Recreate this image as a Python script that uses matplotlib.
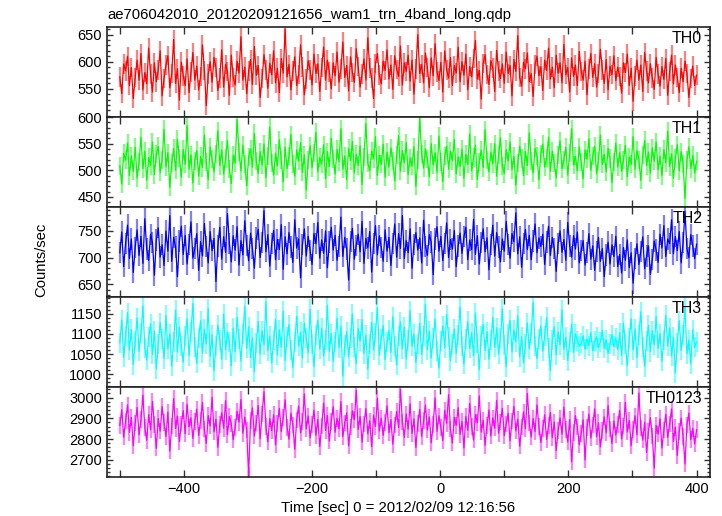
import numpy as np
import matplotlib.pyplot as plt
from matplotlib.ticker import MultipleLocator

plt.rcParams['font.family'] = ['Liberation Sans', 'DejaVu Sans']

# time grid: -500 .. 400 s, 3 s steps (301 bins)
time = np.arange(-500, 401, 3)

th0 = [572, 541, 596, 583, 610, 556, 589, 532, 571, 603, 566, 615, 548, 580, 559, 625, 577, 544, 598, 563,
       585, 620, 537, 569, 594, 611, 552, 578, 641, 560, 587, 529, 599, 574, 556, 605, 543, 581, 617, 566,
       592, 548, 573, 631, 584, 519, 577, 600, 562, 608, 589, 547, 570, 622, 553, 595, 582, 538, 612, 571,
       557, 601, 579, 646, 566, 590, 541, 583, 604, 558, 628, 575, 593, 534, 569, 613, 585, 551, 597, 576,
       620, 561, 588, 543, 606, 579, 660, 572, 595, 548, 583, 609, 556, 576, 631, 590, 539, 568, 602, 585,
       557, 614, 578, 596, 545, 589, 627, 566, 603, 581, 550, 598, 574, 618, 562, 587, 636, 571, 593, 546,
       609, 580, 562, 624, 591, 553, 577, 605, 566, 644, 588, 570, 532, 597, 615, 575, 559, 601, 584, 622,
       568, 594, 549, 611, 586, 573, 629, 557, 598, 582, 612, 564, 603, 540, 587, 650, 578, 595, 561, 616,
       589, 552, 607, 574, 633, 581, 565, 599, 544, 620, 585, 570, 608, 556, 593, 579, 627, 563, 600, 575,
       614, 548, 591, 572, 606, 639, 568, 584, 531, 597, 613, 576, 558, 602, 588, 545, 621, 583, 569, 596,
       560, 618, 578, 593, 537, 604, 582, 648, 571, 555, 599, 587, 616, 563, 578, 536, 595, 610, 574, 591,
       547, 603, 584, 625, 568, 590, 552, 612, 579, 598, 561, 632, 576, 589, 544, 607, 573, 594, 556, 619,
       582, 566, 601, 539, 587, 615, 571, 596, 553, 578, 623, 585, 560, 604, 548, 592, 576, 611, 565, 590,
       573, 542, 598, 580, 614, 556, 588, 527, 574, 603, 566, 594, 545, 617, 583, 561, 596, 570, 549, 608,
       577, 555, 591, 567, 606, 538, 582, 612, 559, 594, 571, 543, 588, 563, 601, 578, 534, 569, 592, 556,
       575]

th1 = [508, 474, 532, 519, 551, 490, 527, 498, 543, 485, 515, 562, 503, 536, 481, 524, 509, 553, 492, 530,
       545, 496, 520, 577, 506, 533, 468, 514, 541, 500, 558, 523, 487, 539, 511, 584, 502, 529, 476, 518,
       537, 489, 526, 505, 566, 515, 482, 544, 521, 497, 531, 574, 509, 538, 493, 522, 556, 503, 475, 528,
       514, 595, 534, 499, 547, 512, 471, 525, 540, 506, 569, 518, 494, 535, 510, 549, 486, 527, 581, 513,
       491, 532, 508, 557, 520, 478, 543, 503, 526, 567, 511, 489, 538, 517, 552, 496, 529, 463, 519, 546,
       505, 533, 571, 497, 524, 512, 548, 484, 535, 507, 560, 521, 493, 539, 516, 578, 502, 527, 482, 541,
       518, 554, 495, 530, 509, 546, 473, 525, 588, 513, 500, 536, 522, 563, 490, 528, 511, 549, 487, 534,
       506, 542, 517, 480, 529, 565, 498, 537, 514, 552, 492, 523, 508, 544, 470, 519, 597, 531, 504, 540,
       521, 488, 550, 510, 533, 496, 564, 515, 479, 527, 545, 502, 536, 518, 558, 493, 525, 507, 540, 485,
       530, 511, 568, 499, 524, 547, 483, 516, 538, 505, 576, 520, 497, 534, 512, 550, 489, 528, 561, 508,
       494, 539, 517, 553, 501, 526, 472, 513, 545, 522, 490, 535, 509, 570, 518, 495, 541, 527, 482, 531,
       549, 506, 523, 562, 498, 536, 514, 486, 529, 555, 503, 520, 543, 491, 532, 578, 510, 526, 499, 544,
       515, 484, 538, 521, 559, 500, 527, 545, 493, 518, 566, 511, 530, 497, 541, 522, 477, 516, 551, 506,
       533, 498, 519, 547, 488, 525, 511, 563, 502, 537, 520, 481, 528, 556, 509, 534, 495, 542, 517, 553,
       501, 526, 490, 539, 514, 573, 507, 531, 485, 522, 548, 499, 535, 512, 447, 520, 544, 503, 528, 495,
       517]

th2 = [709, 748, 683, 727, 761, 698, 735, 672, 719, 752, 704, 740, 689, 773, 716, 695, 744, 728, 667, 733,
       756, 701, 724, 685, 750, 712, 779, 693, 738, 720, 664, 731, 759, 706, 742, 688, 725, 767, 699, 717,
       745, 676, 730, 703, 764, 721, 690, 749, 713, 736, 655, 722, 757, 697, 739, 710, 783, 727, 692, 741,
       714, 758, 686, 732, 705, 769, 723, 694, 746, 717, 680, 737, 753, 700, 728, 788, 711, 743, 684, 726,
       751, 696, 734, 715, 762, 678, 739, 707, 747, 720, 691, 771, 718, 735, 662, 724, 754, 703, 740, 713,
       687, 745, 726, 766, 699, 733, 708, 750, 681, 729, 757, 714, 742, 695, 721, 776, 702, 738, 716, 658,
       730, 755, 697, 723, 744, 711, 768, 689, 736, 718, 749, 673, 727, 760, 705, 741, 719, 693, 752, 712,
       738, 685, 726, 763, 701, 745, 717, 779, 698, 732, 709, 754, 680, 725, 747, 714, 737, 690, 770, 721,
       704, 743, 729, 668, 735, 758, 712, 740, 694, 727, 765, 700, 734, 716, 751, 683, 722, 746, 708, 739,
       757, 696, 733, 715, 772, 706, 741, 688, 728, 754, 711, 737, 677, 724, 761, 703, 747, 720, 692, 735,
       712, 768, 725, 699, 745, 730, 784, 707, 739, 682, 726, 753, 715, 742, 696, 731, 763, 709, 737, 721,
       744, 687, 729, 759, 704, 738, 717, 674, 727, 750, 710, 734, 695, 766, 722, 701, 741, 716, 748, 690,
       713, 732, 686, 709, 745, 697, 722, 676, 711, 738, 693, 717, 664, 705, 729, 688, 724, 702, 740, 683,
       706, 671, 719, 695, 733, 681, 709, 652, 698, 726, 687, 712, 739, 679, 703, 722, 668, 696, 731, 714,
       691, 744, 718, 760, 702, 735, 726, 771, 707, 740, 713, 749, 690, 728, 786, 717, 700, 743, 722, 698,
       725]

th3 = [1078, 1135, 1042, 1096, 1153, 1060, 1111, 1024, 1083, 1140, 1057, 1102, 1170, 1066, 1035, 1092, 1125, 1049, 1107, 1013,
       1074, 1128, 1088, 1039, 1146, 1063, 1100, 1020, 1081, 1159, 1055, 1117, 1071, 1030, 1094, 1138, 1046, 1105, 1176, 1068,
       1027, 1090, 1133, 1052, 1112, 1075, 1163, 1044, 1098, 1008, 1069, 1122, 1085, 1037, 1149, 1061, 1103, 1079, 1021, 1115,
       1056, 1142, 1087, 1033, 1099, 1168, 1064, 1118, 1041, 1091, 1006, 1077, 1131, 1050, 1108, 1073, 1180, 1058, 1095, 1028,
       1084, 1137, 1048, 1110, 1067, 1156, 1034, 1093, 1123, 1059, 1016, 1081, 1144, 1070, 1104, 1040, 1127, 1089, 1053, 1161,
       1076, 1019, 1097, 1134, 1062, 1114, 1045, 1086, 1171, 1057, 1101, 1031, 1080, 1139, 1066, 1119, 995, 1072, 1106, 1043,
       1091, 1150, 1068, 1026, 1113, 1082, 1136, 1051, 1097, 1012, 1074, 1129, 1060, 1102, 1165, 1047, 1088, 1121, 1036, 1079,
       1109, 1054, 1143, 1071, 1023, 1094, 1130, 1063, 1117, 1038, 1085, 1158, 1069, 1100, 1029, 1076, 1126, 1049, 1096, 1174,
       1061, 1107, 1040, 1089, 1137, 1058, 1015, 1082, 1120, 1065, 1148, 1093, 1033, 1075, 1112, 1052, 1098, 1167, 1070, 1025,
       1087, 1131, 1064, 1103, 1046, 1152, 1078, 1011, 1095, 1124, 1059, 1106, 1037, 1084, 1141, 1067, 1115, 1050, 1090, 1162,
       1072, 1018, 1099, 1134, 1055, 1110, 1081, 1145, 1043, 1093, 1028, 1076, 1127, 1063, 1102, 1179, 1071, 1039, 1088, 1120,
       1057, 1096, 1141, 1066, 1009, 1085, 1118, 1048, 1105, 1073, 1160, 1061, 1092, 1034, 1079, 1124, 1054, 1100, 1083, 1069,
       1077, 1095, 1062, 1088, 1071, 1104, 1058, 1082, 1093, 1066, 1080, 1109, 1064, 1086, 1052, 1075, 1098, 1069, 1090, 1061,
       1103, 1047, 1127, 1074, 1021, 1089, 1138, 1060, 1112, 1041, 1097, 1155, 1068, 1019, 1083, 1121, 1056, 1108, 1073, 1143,
       1064, 1101, 1032, 1086, 1146, 1070, 1115, 1045, 1092, 1003, 1078, 1133, 1059, 1097, 1166, 1051, 1085, 1026, 1110, 1067,
       1080]

th0123 = [2866, 2941, 2809, 2887, 2965, 2832, 2905, 2768, 2878, 2952, 2820, 2893, 3012, 2856, 2794, 2918, 2845, 2981, 2871, 2756,
          2899, 2838, 2957, 2880, 2812, 2930, 2742, 2862, 2995, 2851, 2910, 2788, 2873, 2937, 2826, 2968, 2859, 2902, 2803, 2884,
          2944, 2817, 2890, 2976, 2848, 2779, 2913, 2863, 3001, 2835, 2896, 2760, 2869, 2927, 2852, 2985, 2821, 2908, 2874, 2797,
          2855, 2934, 2881, 2991, 2828, 2906, 2843, 2625, 2889, 2950, 2815, 2877, 2962, 2801, 2921, 3028, 2860, 2787, 2898, 2840,
          2917, 2772, 2876, 2948, 2836, 2903, 2989, 2857, 2799, 2925, 2868, 2751, 2892, 2959, 2830, 2884, 3018, 2849, 2911, 2806,
          2870, 2939, 2818, 2895, 2764, 2862, 2973, 2841, 2914, 2790, 2886, 2955, 2833, 2900, 2849, 2980, 2812, 2878, 2926, 2767,
          2858, 2936, 2893, 3035, 2846, 2909, 2785, 2872, 2947, 2825, 2888, 2763, 2915, 2861, 2997, 2839, 2901, 2818, 2879, 2960,
          2831, 2894, 2775, 2867, 2933, 2855, 3040, 2882, 2808, 2921, 2847, 2970, 2827, 2897, 2759, 2874, 2943, 2813, 2889, 2964,
          2844, 2906, 2782, 2869, 2998, 2837, 2912, 2856, 2793, 2938, 2876, 3014, 2849, 2781, 2904, 2866, 2951, 2822, 2885, 2757,
          2909, 2843, 2972, 2861, 2796, 2918, 2879, 3008, 2834, 2891, 2770, 2865, 2940, 2815, 2902, 2853, 2986, 2828, 2883, 2948,
          2816, 2873, 2924, 2791, 2887, 2957, 2839, 2896, 2766, 2858, 2931, 2850, 3020, 2877, 2810, 2899, 2836, 2965, 2860, 2783,
          2852, 2917, 2798, 2864, 2928, 2807, 2882, 2744, 2840, 2902, 2823, 2954, 2847, 2786, 2894, 2690, 2832, 2913, 2859, 2773,
          2826, 2893, 2699, 2855, 2921, 2805, 2868, 2946, 2811, 2879, 2762, 2842, 2907, 2830, 2961, 2848, 2778, 2887, 2819, 2870,
          2938, 2801, 2862, 2976, 2834, 2890, 2768, 2846, 2912, 2821, 3022, 2853, 2795, 2881, 2735, 2838, 2903, 2814, 2660, 2866,
          2824, 2898, 2757, 2843, 2919, 2808, 2872, 2945, 2789, 2857, 2721, 2836, 2901, 2812, 2680, 2868, 2925, 2797, 2851, 2776,
          2845]

names = ['TH0', 'TH1', 'TH2', 'TH3', 'TH0123']
series = [th0, th1, th2, th3, th0123]
errors = [18, 17, 20, 25, 40]
colors = ['#ff0000', '#00ff00', '#0000ff', '#00ffff', '#ff00ff']
ylims = [(498, 664), (431, 599), (626, 795), (968, 1192), (2617, 3051)]
yticks = [[550, 600, 650], [450, 500, 550, 600], [650, 700, 750],
          [1000, 1050, 1100, 1150], [2700, 2800, 2900, 3000]]
yminor = [10, 10, 10, 10, 20]

W, H = 722, 516
fig = plt.figure(figsize=(W / 100, H / 100), dpi=100)

left, right, top, ph = 107, 710, 27, 90
for i in range(5):
    y = np.array(series[i], dtype=float)
    ax = fig.add_axes([left / W, 1 - (top + ph * (i + 1)) / H, (right - left) / W, ph / H])
    # error bars, drawn as light vertical strokes behind the curve
    ax.vlines(time, y - errors[i], y + errors[i], color=colors[i], alpha=0.5, lw=1.6)
    ax.plot(time, y, color=colors[i], lw=0.9)
    ax.set_xlim(-520, 421)
    ax.set_ylim(*ylims[i])
    ax.set_yticks(yticks[i])
    ax.yaxis.set_minor_locator(MultipleLocator(yminor[i]))
    ax.xaxis.set_major_locator(MultipleLocator(200))
    ax.xaxis.set_minor_locator(MultipleLocator(100))
    ax.tick_params(which='both', direction='in', top=True, right=True, labelsize=10.5, width=1.0, color='#333333')
    ax.tick_params(axis='y', which='major', length=4)
    ax.tick_params(axis='y', which='minor', length=2)
    ax.tick_params(axis='x', which='both', length=5)
    for s in ax.spines.values():
        s.set_linewidth(1.2)
        s.set_color('#222222')
    if i < 4:
        ax.tick_params(labelbottom=False)
    ax.text(0.987, 0.955, names[i], transform=ax.transAxes, ha='right', va='top', fontsize=11.5)

fig.text(left / W, 1 - 15 / H, 'ae706042010_20120209121656_wam1_trn_4band_long.qdp',
         ha='left', va='center', fontsize=10.7)
fig.text(398 / W, 1 - 508 / H, 'Time [sec] 0 = 2012/02/09 12:16:56', ha='center', va='center', fontsize=10.7)
fig.text(41 / W, 1 - 260 / H, 'Counts/sec', rotation=90, ha='center', va='center', fontsize=10.7)

fig.savefig('out.png', dpi=100)
